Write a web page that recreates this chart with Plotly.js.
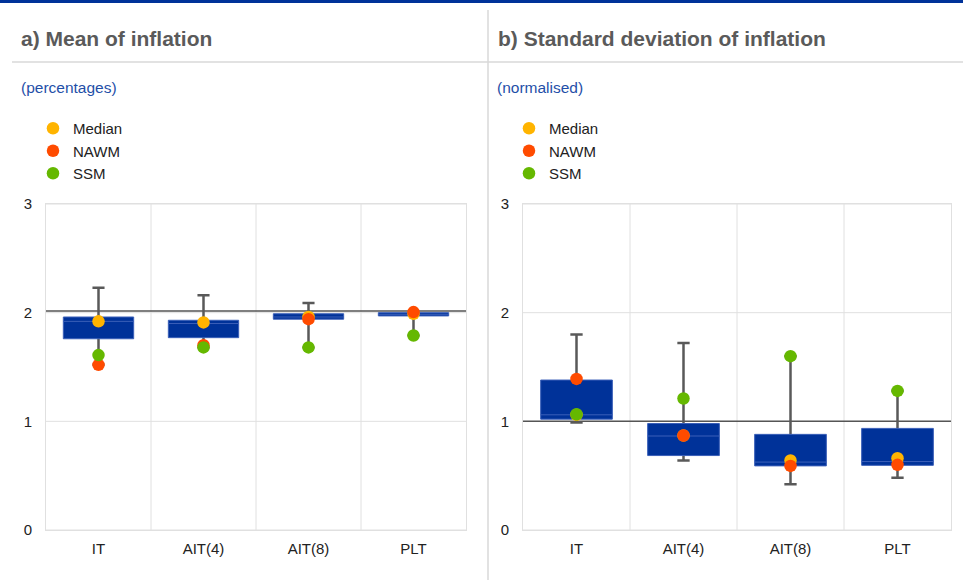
<!DOCTYPE html>
<html>
<head>
<meta charset="utf-8">
<script src="https://cdn.plot.ly/plotly-3.0.1.min.js"></script>
<style>html,body{margin:0;padding:0;background:#fff;}#chart{width:963px;height:580px;}</style>
</head>
<body>
<div id="chart"></div>
<script>
// ---- data ----
const categories = ['IT', 'AIT(4)', 'AIT(8)', 'PLT'];
const seriesNames = ['Median', 'NAWM', 'SSM'];

// panel a) mean of inflation (percentages)
const meanLowerWhisker = [1.52, 1.68, 1.68, 1.79];
const meanQ1 = [1.76, 1.77, 1.94, 1.97];
const meanBoxMedian = [1.92, 1.90, 1.96, 1.985];
const meanQ3 = [1.96, 1.93, 1.99, 2.00];
const meanUpperWhisker = [2.23, 2.16, 2.09, 2.00];
const meanMedian = [1.92, 1.91, 1.96, 1.99];
const meanNAWM = [1.52, 1.70, 1.94, 2.005];
const meanSSM = [1.61, 1.68, 1.68, 1.79];
const meanReference = 2.015;

// panel b) standard deviation of inflation (normalised)
const sdLowerWhisker = [0.99, 0.64, 0.42, 0.48];
const sdQ1 = [1.02, 0.685, 0.59, 0.595];
const sdBoxMedian = [1.06, 0.865, 0.625, 0.63];
const sdQ3 = [1.38, 0.98, 0.88, 0.935];
const sdUpperWhisker = [1.80, 1.72, 1.60, 1.28];
const sdMedian = [1.06, 0.87, 0.64, 0.66];
const sdNAWM = [1.39, 0.87, 0.59, 0.60];
const sdSSM = [1.065, 1.21, 1.60, 1.28];
const sdReference = 1;

const yTickVals = [0, 1, 2, 3];

// ---- styles ----
const W = 963, H = 580;
const FONT = 'Liberation Sans, Arial, sans-serif';
const dotColors = ['#ffb400', '#ff4b00', '#65b800'];
const boxBlue = '#003299';
const whiskerGrey = '#595959';
const gridGrey = '#e0e0e0';

function px(x) { return x / W; }
function py(y) { return 1 - y / H; }

function panelTraces(xa, ya, legendId, low, q1, med, q3, high, dots) {
  const mid = q1.map((v, i) => (v + q3[i]) / 2);
  const traces = [];
  // whiskers (thin degenerate box hidden behind the real box)
  traces.push({
    type: 'box', x: categories, q1: mid, median: mid, q3: mid,
    lowerfence: low, upperfence: high,
    width: 0.115, whiskerwidth: 1,
    line: {color: whiskerGrey, width: 2.5}, fillcolor: whiskerGrey,
    boxpoints: false, showlegend: false, hoverinfo: 'skip',
    xaxis: xa, yaxis: ya
  });
  // interquartile box
  traces.push({
    type: 'box', x: categories, q1: q1, median: med, q3: q3,
    lowerfence: q1, upperfence: q3,
    width: 0.67, whiskerwidth: 0,
    line: {color: '#3a5fb8', width: 1}, fillcolor: boxBlue,
    boxpoints: false, showlegend: false, hoverinfo: 'skip',
    xaxis: xa, yaxis: ya
  });
  dots.forEach((vals, i) => {
    traces.push({
      type: 'scatter', mode: 'markers', x: categories, y: vals,
      name: seriesNames[i], legend: legendId,
      marker: {color: dotColors[i], size: 12.5, line: {width: 0}},
      cliponaxis: false, hoverinfo: 'skip',
      xaxis: xa, yaxis: ya
    });
  });
  return traces;
}

const data = [].concat(
  panelTraces('x', 'y', 'legend', meanLowerWhisker, meanQ1, meanBoxMedian, meanQ3, meanUpperWhisker,
    [meanMedian, meanNAWM, meanSSM]),
  panelTraces('x2', 'y2', 'legend2', sdLowerWhisker, sdQ1, sdBoxMedian, sdQ3, sdUpperWhisker,
    [sdMedian, sdNAWM, sdSSM])
);

const yDomain = [py(530), py(204)];

function xAxis(domain, anchor) {
  return {
    domain: domain, anchor: anchor, type: 'category', range: [-0.5, 3.5],
    ticks: '', showgrid: false,
    showline: true, linecolor: gridGrey, linewidth: 1, mirror: true,
    zeroline: false, tickfont: {size: 15, color: '#222', family: FONT},
    ticklabelstandoff: 5, fixedrange: true
  };
}
function yAxis(domain, anchor) {
  return {
    domain: domain, anchor: anchor, range: [0, 3], tickvals: yTickVals,
    ticktext: yTickVals.map(String),
    showgrid: false, zeroline: false,
    showline: true, linecolor: gridGrey, linewidth: 1, mirror: true,
    ticks: '', tickfont: {size: 15, color: '#222', family: FONT},
    ticklabelstandoff: 10, fixedrange: true
  };
}

// gridlines drawn as shapes so the reference line can sit above them and below the marks
function gridShapes(xa, ya) {
  const s = [];
  yTickVals.forEach(v => s.push({
    type: 'line', xref: xa + ' domain', yref: ya, x0: 0, x1: 1, y0: v, y1: v,
    layer: 'below', line: {color: gridGrey, width: 1}
  }));
  for (let i = 1; i < categories.length; i++) {
    const f = i / categories.length;
    s.push({
      type: 'line', xref: xa + ' domain', yref: ya + ' domain', x0: f, x1: f, y0: 0, y1: 1,
      layer: 'below', line: {color: gridGrey, width: 1}
    });
  }
  return s;
}

const legendCommon = {
  orientation: 'v', xanchor: 'left', yanchor: 'top',
  font: {size: 15, color: '#222', family: FONT},
  bgcolor: 'rgba(0,0,0,0)', borderwidth: 0, itemclick: false, itemdoubleclick: false
};

const layout = {
  width: W, height: H,
  margin: {l: 0, r: 0, t: 0, b: 0},
  paper_bgcolor: '#ffffff', plot_bgcolor: '#ffffff',
  font: {family: FONT, size: 14, color: '#222'},
  boxmode: 'overlay', showlegend: true,
  xaxis: xAxis([px(46), px(466)], 'y'),
  yaxis: yAxis(yDomain, 'x'),
  xaxis2: xAxis([px(523), px(951)], 'y2'),
  yaxis2: yAxis(yDomain, 'x2'),
  legend: Object.assign({x: px(33), y: py(112)}, legendCommon),
  legend2: Object.assign({x: px(509), y: py(112)}, legendCommon),
  shapes: [].concat(
    [
      {type: 'rect', xref: 'paper', yref: 'paper', x0: 0, x1: 1, y0: py(3), y1: 1,
       fillcolor: boxBlue, line: {width: 0}},
      {type: 'line', xref: 'paper', yref: 'paper', x0: px(12), x1: 1, y0: py(62), y1: py(62),
       line: {color: '#d9d9d9', width: 1.5}},
      {type: 'line', xref: 'paper', yref: 'paper', x0: px(488), x1: px(488), y0: 0, y1: py(10),
       line: {color: '#d9d9d9', width: 1.5}}
    ],
    gridShapes('x', 'y'),
    gridShapes('x2', 'y2'),
    [
      {type: 'line', xref: 'x domain', yref: 'y', x0: 0, x1: 1, y0: meanReference, y1: meanReference,
       layer: 'below', line: {color: '#555555', width: 1.5}},
      {type: 'line', xref: 'x2 domain', yref: 'y2', x0: 0, x1: 1, y0: sdReference, y1: sdReference,
       layer: 'below', line: {color: '#555555', width: 1.5}}
    ]
  ),
  annotations: [
    {text: '<b>a) Mean of inflation</b>', xref: 'paper', yref: 'paper', x: px(19), y: py(38),
     xanchor: 'left', yanchor: 'middle', showarrow: false,
     font: {size: 21, color: '#5a5a5a', family: FONT}},
    {text: '<b>b) Standard deviation of inflation</b>', xref: 'paper', yref: 'paper', x: px(496), y: py(38),
     xanchor: 'left', yanchor: 'middle', showarrow: false,
     font: {size: 21, color: '#5a5a5a', family: FONT}},
    {text: '(percentages)', xref: 'paper', yref: 'paper', x: px(19), y: py(88),
     xanchor: 'left', yanchor: 'middle', showarrow: false,
     font: {size: 15.5, color: '#1f4fa8', family: FONT}},
    {text: '(normalised)', xref: 'paper', yref: 'paper', x: px(495), y: py(88),
     xanchor: 'left', yanchor: 'middle', showarrow: false,
     font: {size: 15.5, color: '#1f4fa8', family: FONT}}
  ]
};

Plotly.newPlot('chart', data, layout, {staticPlot: true, displayModeBar: false});
</script>
</body>
</html>
